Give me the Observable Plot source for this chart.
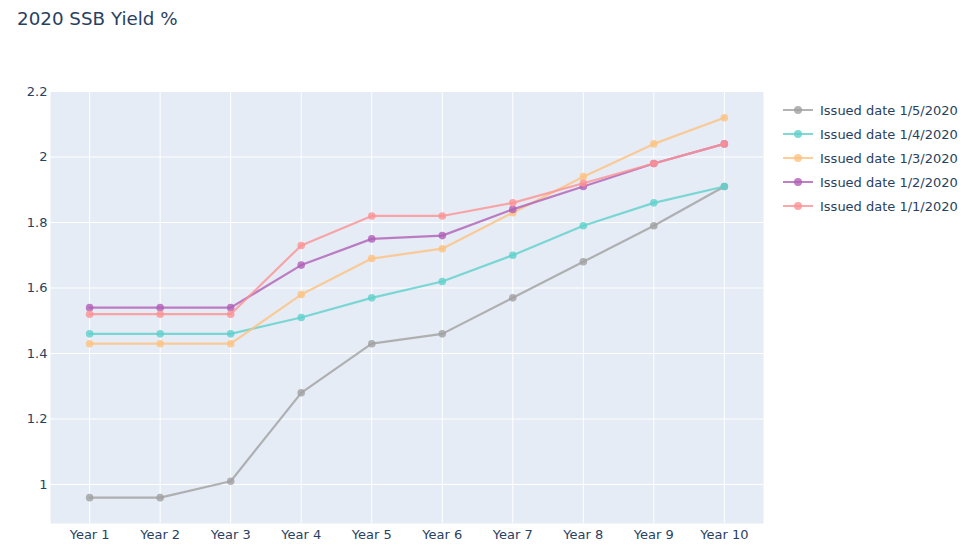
<!DOCTYPE html>
<html>
<head>
<meta charset="utf-8">
<script src="https://cdn.jsdelivr.net/npm/d3@7"></script>
<script src="https://cdn.jsdelivr.net/npm/@observablehq/plot@0.6"></script>
<style>
  body { margin: 0; background: #fff; font-family: Verdana, "DejaVu Sans", sans-serif; }
  #wrap { position: relative; width: 977px; height: 560px; }
  #title { position: absolute; left: 17px; top: 8px; font-size: 18.3px; color: #2a3f5f; }
  #chart { position: absolute; left: 0; top: 50px; }
  #legend { position: absolute; left: 783px; top: 98px; font-size: 13px; color: #2a3f5f; }
  .row { height: 24px; display: flex; align-items: center; }
  .sw { position: relative; width: 30px; height: 18px; margin-right: 7px; }
  .sw .ln { position: absolute; left: 0; top: 8px; width: 30px; height: 2px; }
  .sw .dt { position: absolute; left: 11px; top: 5px; width: 8px; height: 8px; border-radius: 50%; }
</style>
</head>
<body>
<div id="wrap">
  <div id="title">2020 SSB Yield %</div>
  <div id="chart"></div>
  <div id="legend"></div>
</div>
<script>
const years = ["Year 1","Year 2","Year 3","Year 4","Year 5","Year 6","Year 7","Year 8","Year 9","Year 10"];
const seriesNames = ["Issued date 1/5/2020","Issued date 1/4/2020","Issued date 1/3/2020","Issued date 1/2/2020","Issued date 1/1/2020"];
const s0105 = [0.96, 0.96, 1.01, 1.28, 1.43, 1.46, 1.57, 1.68, 1.79, 1.91];
const s0104 = [1.46, 1.46, 1.46, 1.51, 1.57, 1.62, 1.70, 1.79, 1.86, 1.91];
const s0103 = [1.43, 1.43, 1.43, 1.58, 1.69, 1.72, 1.83, 1.94, 2.04, 2.12];
const s0102 = [1.54, 1.54, 1.54, 1.67, 1.75, 1.76, 1.84, 1.91, 1.98, 2.04];
const s0101 = [1.52, 1.52, 1.52, 1.73, 1.82, 1.82, 1.86, 1.92, 1.98, 2.04];
const colors = ["rgb(160,160,160)","rgb(95,209,202)","rgb(254,194,128)","rgb(176,95,182)","rgb(252,146,146)"];
const yTicks = [1, 1.2, 1.4, 1.6, 1.8, 2, 2.2];

const allSeries = [s0105, s0104, s0103, s0102, s0101];
const data = [];
allSeries.forEach((vals, i) => vals.forEach((v, j) => data.push({series: seriesNames[i], year: years[j], value: v})));

const chart = Plot.plot({
  width: 977,
  height: 510,
  marginLeft: 50,
  marginRight: 214,
  marginTop: 41,
  marginBottom: 37,
  style: { fontFamily: "Verdana, 'DejaVu Sans', sans-serif", fontSize: "13px", color: "#2a3f5f", background: "transparent" },
  x: { type: "point", domain: years, padding: 0.555, round: false, label: null, tickSize: 0, tickPadding: 6 },
  y: { domain: [0.881, 2.2], ticks: yTicks, tickFormat: d => String(d), label: null, tickSize: 0, tickPadding: 3 },
  color: { domain: seriesNames, range: colors },
  marks: [
    Plot.frame({ fill: "#e5ecf6", stroke: null }),
    Plot.gridX({ stroke: "#fff", strokeOpacity: 1, strokeWidth: 1 }),
    Plot.gridY(yTicks, { stroke: "#fff", strokeOpacity: 1, strokeWidth: 1 }),
    Plot.axisX({ tickSize: 0, tickPadding: 6, fontSize: 13 }),
    Plot.axisY(yTicks, { tickSize: 0, tickPadding: 3, tickFormat: d => String(d), fontSize: 13 }),
    ...seriesNames.map(name => [
      Plot.line(data.filter(d => d.series === name), { x: "year", y: "value", stroke: "series", strokeWidth: 2.2, strokeOpacity: 0.8 }),
      Plot.dot(data.filter(d => d.series === name), { x: "year", y: "value", fill: "series", r: 3.8, fillOpacity: 0.8, stroke: null })
    ]).flat()
  ]
});
document.getElementById("chart").appendChild(chart);

const legend = document.getElementById("legend");
seriesNames.forEach((name, i) => {
  const row = document.createElement("div");
  row.className = "row";
  row.innerHTML = `<div class="sw"><div class="ln" style="background:${colors[i]};opacity:0.8"></div><div class="dt" style="background:${colors[i]};opacity:0.8"></div></div><span>${name}</span>`;
  legend.appendChild(row);
});
</script>
</body>
</html>
